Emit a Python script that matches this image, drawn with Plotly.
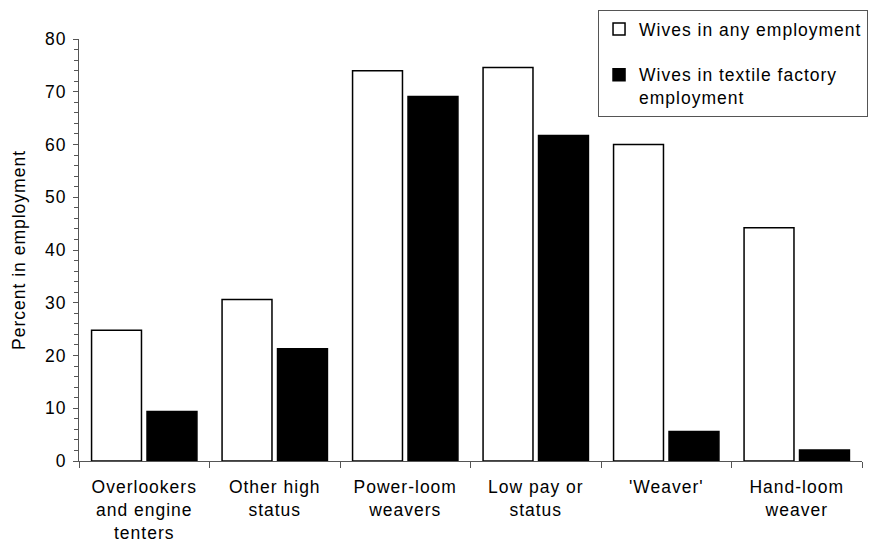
import plotly.graph_objects as go

categories = ["Overlookers<br>and engine<br>tenters", "Other high<br>status", "Power-loom<br>weavers",
              "Low pay or<br>status", "'Weaver'", "Hand-loom<br>weaver"]
any_employment = [24.8, 30.6, 74.0, 74.6, 60.0, 44.2]
textile_employment = [9.4, 21.3, 69.1, 61.7, 5.6, 2.1]
series_names = ["Wives in any employment", "Wives in textile factory<br>employment"]

FONT = "Liberation Sans, Arial, sans-serif"
FS = 17.5

fig = go.Figure()
fig.add_trace(go.Bar(x=categories, y=any_employment, name=series_names[0],
                     marker=dict(color="white", line=dict(color="black", width=1.5)),
                     legendgroup="a"))
fig.add_trace(go.Bar(x=categories, y=textile_employment, name=series_names[1],
                     marker=dict(color="black", line=dict(color="black", width=1.5)),
                     legendgroup="b"))

fig.update_layout(
    width=869, height=542,
    margin=dict(l=79, r=7, t=39, b=81, autoexpand=False),
    paper_bgcolor="white", plot_bgcolor="white",
    font=dict(family=FONT, size=FS, color="black"),
    barmode="group", bargap=0.15, bargroupgap=0.1,
    showlegend=True,
    legend=dict(x=1.0077, y=1.0687,
                xanchor="right", yanchor="top",
                bordercolor="#555", borderwidth=1, bgcolor="white",
                traceorder="grouped", tracegroupgap=20, valign="top",
                font=dict(family=FONT, size=FS, color="black"),
                itemwidth=30),
    xaxis=dict(showline=True, linecolor="#555", linewidth=1, tickangle=0,
               ticks="outside", tickson="boundaries", ticklen=6, tickcolor="#555",
               showgrid=False, tickfont=dict(size=FS), automargin=False,
               ticklabelstandoff=10),
    yaxis=dict(range=[0, 80], dtick=10, showline=True, linecolor="#555", linewidth=1,
               ticks="outside", ticklen=5, tickcolor="#555", showgrid=False, zeroline=False,
               minor=dict(dtick=2, ticks="outside", ticklen=4, tickcolor="#555"),
               title=dict(text="Percent in employment", font=dict(size=FS), standoff=14),
               tickfont=dict(size=FS), automargin=False, ticklabelstandoff=3),
)

FS2 = FS + 0.01
spacing_js = """
var st = document.createElement('style');
st.innerHTML = 'svg text { letter-spacing: 1px; }';
document.head.appendChild(st);
var gd = document.getElementById('{plot_id}');
Plotly.relayout(gd, {'legend.font.size': %s, 'xaxis.tickfont.size': %s,
                     'yaxis.tickfont.size': %s, 'yaxis.title.font.size': %s});
""" % (FS2, FS2, FS2, FS2)

fig.write_html("out.html", post_script=spacing_js)
